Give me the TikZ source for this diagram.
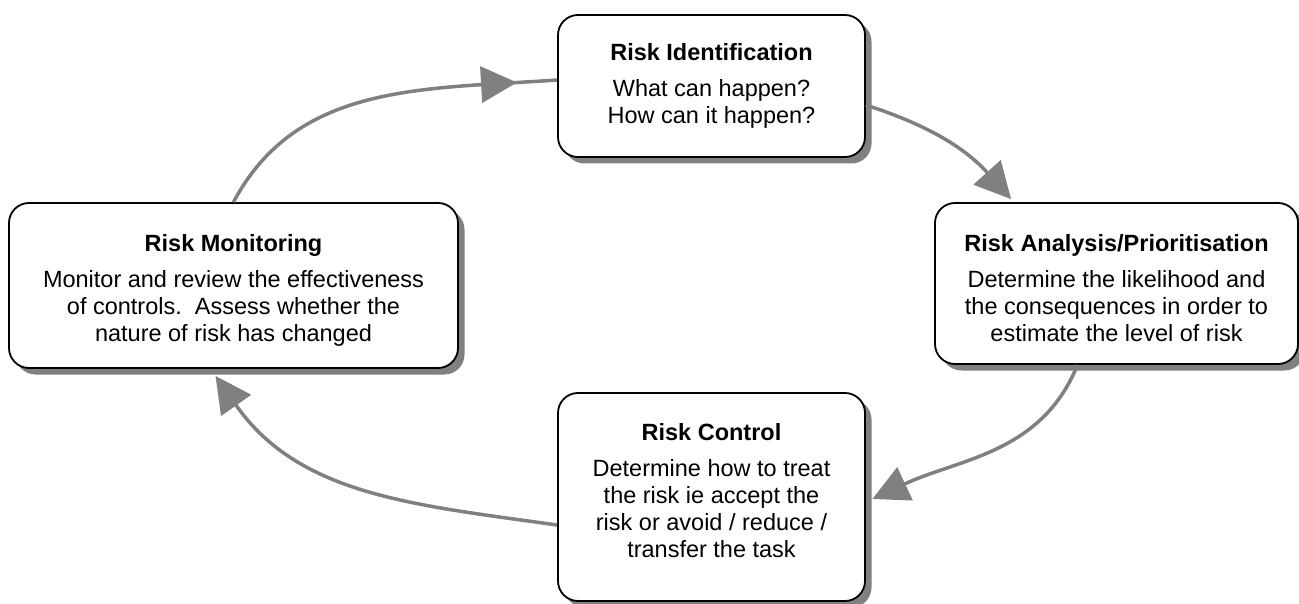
\documentclass[tikz,border=0pt]{standalone}
\usepackage{fontspec}
\setmainfont{Liberation Sans}
\usetikzlibrary{arrows.meta,positioning,shadows,decorations.markings}
\definecolor{arrgray}{HTML}{808080}
\definecolor{shgray}{HTML}{808080}
\tikzset{
  phase/.style={draw,line width=1.8pt,rounded corners=20pt,fill=white,
    inner sep=0pt,
    drop shadow={shadow xshift=6.5pt,shadow yshift=-6.5pt,fill=shgray,opacity=1}},
  txt/.style={align=center,inner sep=0pt,font=\fontsize{23.5}{27}\selectfont},
  flow/.style={draw=arrgray,line width=3.5pt,
    -{Triangle[length=36pt,width=36pt]}},
  tip/.style={arrgray,line width=3.5pt},
}

\begin{document}
\begin{tikzpicture}[x=1pt,y=1pt]
  \useasboundingbox (0,0) rectangle (1299,-604);
  \clip (0,0) rectangle (1299,-604);
  % the four steps of the cycle
  \node[phase,minimum width=307pt,minimum height=142pt] (ident) at (711.5,-86) {};
  \node[phase,minimum width=363pt,minimum height=161pt] (anal) at (1116.5,-283.5) {};
  \node[phase,minimum width=307pt,minimum height=208pt] (ctrl) at (711.5,-497) {};
  \node[phase,minimum width=449pt,minimum height=165pt] (mon) at (233.5,-285.5) {};
  % their texts
  \node[txt] (ident-t) at (ident.center)
    {\textbf{Risk Identification}\\[9pt]What can happen?\\How can it happen?};
  \node[txt] (anal-t) at ([yshift=-5pt]anal.center)
    {\textbf{Risk Analysis/Prioritisation}\\[9pt]Determine the likelihood and\\
     the consequences in order to\\estimate the level of risk};
  \node[txt] (ctrl-t) at ([yshift=6pt]ctrl.center)
    {\textbf{Risk Control}\\[9pt]Determine how to treat\\the risk ie accept the\\
     risk or avoid / reduce /\\transfer the task};
  \node[txt] (mon-t) at ([yshift=-5pt]mon.center)
    {\textbf{Risk Monitoring}\\[9pt]Monitor and review the effectiveness\\
     of controls.\ \ Assess whether the\\nature of risk has changed};
  % connectors
  \draw[draw=arrgray,line width=3.5pt,postaction={decorate},
    decoration={markings,mark=at position 0.89 with
      {\arrow[tip]{Triangle[length=36pt,width=36pt]}}}]
    (mon.north) to[out=62,in=184] ([yshift=6pt]ident.west);
  \draw[flow] ([yshift=-19pt]ident.east) to[out=-18,in=132]
    ([xshift=77pt,yshift=3pt]anal.north west);
  \draw[flow] ([xshift=-39pt]anal.south) to[out=-112,in=25]
    ([xshift=6.5pt,yshift=-2pt]ctrl.east);
  \draw[flow] ([yshift=-28pt]ctrl.west) to[out=172,in=-55]
    ([xshift=-18pt,yshift=-7pt]mon.south);
\end{tikzpicture}
\end{document}
